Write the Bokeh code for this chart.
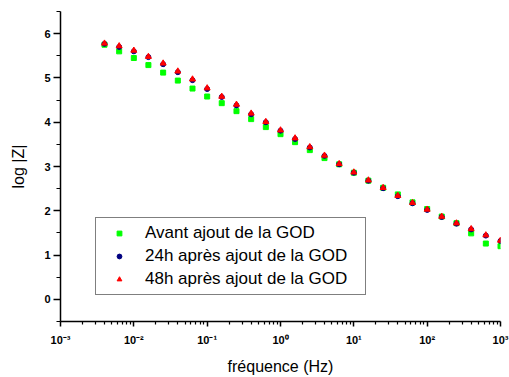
from bokeh.plotting import figure
from bokeh.models import (Range1d, FixedTicker, CustomJSTickFormatter, Legend, LegendItem,
                          ColumnDataSource)
from bokeh.embed import file_html
from bokeh.resources import INLINE

# Data
freq_hz = [0.00398, 0.00631, 0.01, 0.0158, 0.0251, 0.0398, 0.0631, 0.1, 0.158, 0.251,
           0.398, 0.631, 1.0, 1.58, 2.51, 3.98, 6.31, 10.0, 15.8, 25.1,
           39.8, 63.1, 100.0, 158.0, 251.0, 398.0, 631.0, 1000.0]
avant = [5.75, 5.60, 5.45, 5.29, 5.12, 4.94, 4.76, 4.58, 4.43, 4.25,
         4.07, 3.89, 3.73, 3.55, 3.37, 3.19, 3.05, 2.86, 2.68, 2.52,
         2.37, 2.19, 2.04, 1.87, 1.72, 1.49, 1.26, 1.20]
h24 = [5.77, 5.70, 5.60, 5.47, 5.31, 5.13, 4.95, 4.75, 4.57, 4.38,
       4.18, 4.00, 3.81, 3.62, 3.43, 3.24, 3.05, 2.86, 2.68, 2.51,
       2.33, 2.17, 2.02, 1.86, 1.71, 1.58, 1.44, 1.32]
h48 = [5.78, 5.72, 5.62, 5.48, 5.33, 5.15, 4.97, 4.77, 4.58, 4.40,
       4.20, 4.01, 3.82, 3.64, 3.44, 3.25, 3.06, 2.87, 2.69, 2.52,
       2.34, 2.18, 2.03, 1.87, 1.72, 1.59, 1.45, 1.33]
series_labels = ["Avant ajout de la GOD", "24h après ajout de la GOD", "48h après ajout de la GOD"]

x_major = [1e-3, 1e-2, 1e-1, 1e0, 1e1, 1e2, 1e3]
x_minor = [m * d for d in [1e-3, 1e-2, 1e-1, 1e0, 1e1, 1e2] for m in range(2, 10)]
y_major = [0, 1, 2, 3, 4, 5, 6]
y_minor = [-0.5, 0.5, 1.5, 2.5, 3.5, 4.5, 5.5, 6.5]

src = ColumnDataSource(dict(f=freq_hz, a=avant, b=h24, c=h48))

p = figure(width=509, height=377, x_axis_type="log", output_backend="svg",
           toolbar_location=None, x_range=Range1d(1e-3, 1e3), y_range=Range1d(-0.5, 6.5),
           min_border_left=60, min_border_right=9, min_border_top=11, min_border_bottom=55)
p.outline_line_color = None
p.grid.visible = False
p.background_fill_color = "white"
p.border_fill_color = "white"

r1 = p.scatter("f", "a", source=src, marker="square", size=5, color="#00FF00")
r2 = p.scatter("f", "b", source=src, marker="circle", size=5, color="#000080")
r3 = p.scatter("f", "c", source=src, marker="triangle", size=6, color="#FF0000")

xa = p.xaxis[0]
xa.ticker = FixedTicker(ticks=x_major, minor_ticks=x_minor)
xa.formatter = CustomJSTickFormatter(code="""
const sup = {"-":"\u207b","0":"\u2070","1":"\u00b9","2":"\u00b2","3":"\u00b3","4":"\u2074","5":"\u2075","6":"\u2076","7":"\u2077","8":"\u2078","9":"\u2079"};
const e = Math.round(Math.log10(tick));
return "10" + String(e).split("").map(c => sup[c]).join("");
""")
xa.axis_label = "fréquence (Hz)"
xa.major_tick_out = 5
xa.major_tick_in = 0
xa.minor_tick_out = 3
xa.minor_tick_in = 0
xa.major_label_standoff = 7

ya = p.yaxis[0]
ya.ticker = FixedTicker(ticks=y_major, minor_ticks=y_minor)
ya.axis_label = "log |Z|"
ya.major_tick_out = 7
ya.major_tick_in = 0
ya.minor_tick_out = 4
ya.minor_tick_in = 0
ya.major_label_standoff = 3

for ax in (xa, ya):
    ax.axis_line_width = 1.5
    ax.axis_line_color = "black"
    ax.major_tick_line_color = "black"
    ax.minor_tick_line_color = "black"
    ax.major_tick_line_width = 1.5
    ax.minor_tick_line_width = 1.2
    ax.major_label_text_font = "Liberation Sans"
    ax.major_label_text_font_style = "bold"
    ax.major_label_text_font_size = "11px"
    ax.major_label_text_color = "black"
    ax.axis_label_text_font = "Liberation Sans"
    ax.axis_label_text_font_style = "normal"
    ax.axis_label_text_font_size = "16px"
    ax.axis_label_text_color = "black"
xa.axis_label_standoff = 9
ya.axis_label_standoff = 14

legend = Legend(items=[LegendItem(label=series_labels[0], renderers=[r1]),
                       LegendItem(label=series_labels[1], renderers=[r2]),
                       LegendItem(label=series_labels[2], renderers=[r3])],
                location=(35, 26))
legend.label_text_font = "Liberation Sans"
legend.label_text_font_size = "17px"
legend.label_text_color = "black"
legend.border_line_color = "black"
legend.border_line_width = 1
legend.background_fill_color = "white"
legend.background_fill_alpha = 1
legend.padding = 5
legend.spacing = 3
legend.margin = 0
legend.glyph_width = 36
legend.glyph_height = 12
legend.label_height = 20
legend.label_width = 215
legend.label_standoff = 8
p.add_layout(legend, "center")

open("out.html", "w").write(file_html(p, INLINE))
